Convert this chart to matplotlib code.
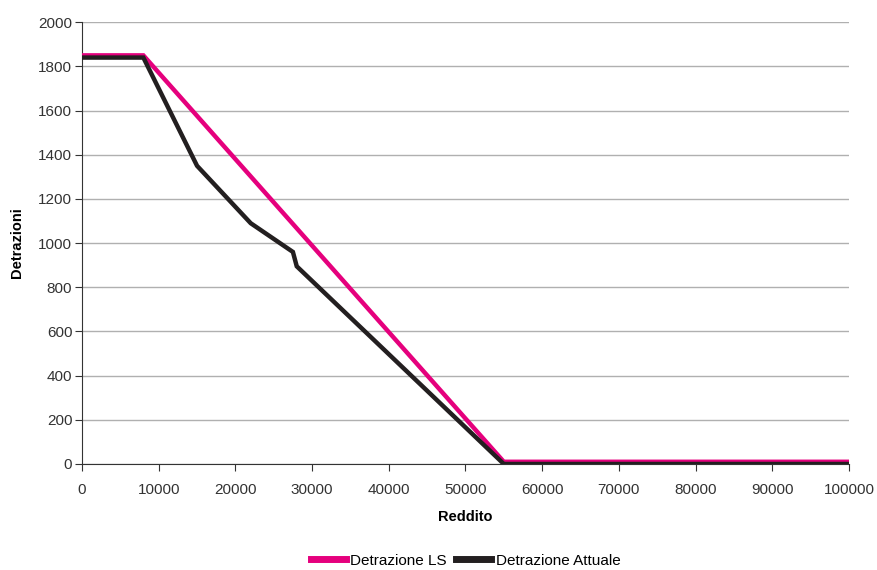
import matplotlib
matplotlib.use("Agg")
import matplotlib.pyplot as plt

# Data
reddito_ls = [0, 8000, 55000, 100000]
detrazione_ls = [1850, 1850, 10, 10]

reddito_attuale = [0, 8000, 15000, 22000, 27500, 28000, 55000, 100000]
detrazione_attuale = [1840, 1840, 1350, 1090, 960, 895, 0, 0]

x_ticks = list(range(0, 100001, 10000))
y_ticks = list(range(0, 2001, 200))


def main():
    plt.rcParams["font.family"] = ["Liberation Sans", "DejaVu Sans"]
    fig = plt.figure(figsize=(8.77, 5.70), dpi=100)
    ax = fig.add_axes([0.0935, 0.186, 0.8745, 0.775])

    ax.plot(reddito_ls, detrazione_ls, color="#e5007d", lw=3.2,
            label="Detrazione LS", solid_joinstyle="miter", zorder=3)
    ax.plot(reddito_attuale, detrazione_attuale, color="#231f20", lw=3.2,
            label="Detrazione Attuale", solid_joinstyle="miter", zorder=4)

    ax.set_xlim(0, 100000)
    ax.set_ylim(0, 2000)
    ax.set_xticks(x_ticks)
    ax.set_yticks(y_ticks)
    ax.tick_params(labelsize=11, colors="#333333", length=5, direction="out")
    ax.tick_params(axis="x", pad=9)
    ax.tick_params(axis="y", pad=2)
    ax.yaxis.grid(True, color="#b0b0b0", lw=1)
    ax.set_axisbelow(True)
    for s in ["top", "right"]:
        ax.spines[s].set_visible(False)
    ax.spines["left"].set_color("#333333")
    ax.spines["bottom"].set_color("#333333")

    ax.set_xlabel("Reddito", fontsize=10.5, fontweight="bold", labelpad=9)
    ax.set_ylabel("Detrazioni", fontsize=10.5, fontweight="bold", labelpad=10)

    leg = fig.legend(loc="lower center", bbox_to_anchor=(0.531, -0.02), ncol=2,
                     frameon=False, fontsize=11, handlelength=2.3,
                     handletextpad=0.3, columnspacing=0.6)
    for line in leg.get_lines():
        line.set_linewidth(5)

    fig.savefig("out.png", dpi=100)
    plt.close(fig)


if __name__ == "__main__":
    main()
